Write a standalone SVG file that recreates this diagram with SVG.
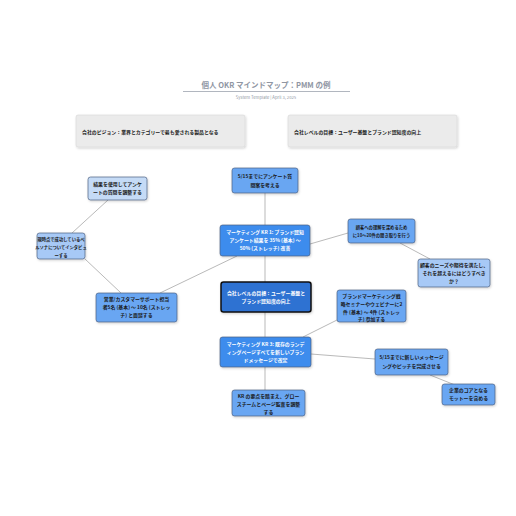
<svg xmlns="http://www.w3.org/2000/svg" width="516" height="516" viewBox="0 0 516 516">
<style>
text{font-family:"Noto Sans CJK JP","Noto Sans",sans-serif;text-anchor:middle;font-weight:bold}
.t{font-size:4.9px;fill:#1a1a1a}
.w{font-size:4.9px;fill:#ffffff}
.s{font-size:4.3px}
.node{stroke:#4a5f80;stroke-width:0.7}
.lt{fill:#c5dbf6}
.md{fill:#69a6f2}
.lb{fill:#a7c9f6}
.kr{fill:#3e8ced}
.vis{fill:#ebebeb;stroke:#d6d6d6;stroke-width:0.6}
.cn line{stroke:#8a8a8a;stroke-width:0.6}
</style>
<defs>
<filter id="sh" x="-10%" y="-10%" width="130%" height="140%"><feDropShadow dx="0.8" dy="1.2" stdDeviation="0.8" flood-color="#000" flood-opacity="0.18"/></filter>
</defs>
<rect width="516" height="516" fill="#ffffff"/>
<g id="title">
<text x="266" y="88" style="font-size:7.5px;fill:#8f96a3">個人 OKR マインドマップ：PMM の例</text>
<line x1="183" y1="91.5" x2="350" y2="91.5" stroke="#8f96a3" stroke-width="0.7"/>
<text x="266" y="98.5" style="font-size:4.2px;fill:#8f96a3;font-weight:normal">System Template | April 3, 2025</text>
</g>
<g id="vision">
<rect class="vis" x="76" y="115" width="169" height="32" rx="2" filter="url(#sh)"/>
<text x="82" y="134" class="t" style="text-anchor:start">会社のビジョン：業界とカテゴリーで最も愛される製品となる</text>
</g>
<g id="goal-banner">
<rect class="vis" x="288" y="115" width="169" height="32" rx="2" filter="url(#sh)"/>
<text x="294" y="134" class="t" style="text-anchor:start">会社レベルの目標：ユーザー基盤とブランド認知度の向上</text>
</g>
<g class="cn" id="connectors">
<line x1="265" y1="193" x2="265" y2="225"/>
<line x1="310" y1="244" x2="348" y2="233"/>
<line x1="400" y1="243" x2="430" y2="259"/>
<line x1="237" y1="256" x2="160" y2="293"/>
<line x1="85" y1="259" x2="121" y2="293"/>
<line x1="108" y1="200" x2="72" y2="233"/>
<line x1="265" y1="256" x2="265" y2="282"/>
<line x1="265" y1="312" x2="265" y2="337"/>
<line x1="303" y1="337" x2="337" y2="320"/>
<line x1="311" y1="354" x2="375" y2="359"/>
<line x1="430" y1="375" x2="455" y2="385"/>
<line x1="265" y1="367" x2="265" y2="390"/>
</g>
<g id="n-survey">
<rect class="node md" x="232" y="168" width="66" height="25" rx="2.5" filter="url(#sh)"/>
<text class="t" x="265" y="178">5/15までにアンケート質</text>
<text class="t" x="265" y="187">問案を考える</text>
</g>
<g id="n-results">
<rect class="node lt" x="88" y="177" width="59" height="23" rx="2.5" filter="url(#sh)"/>
<text class="t" x="117.5" y="186">結果を使用してアンケ</text>
<text class="t" x="117.5" y="194">ートの質問を調整する</text>
</g>
<g id="n-kr1">
<rect class="node kr" x="220" y="225" width="90" height="31" rx="2.5" filter="url(#sh)"/>
<text class="w" x="265" y="234">マーケティング KR 1: ブランド認知</text>
<text class="w" x="265" y="242">アンケート結果を 35% (基本) ～</text>
<text class="w" x="265" y="250">50% (ストレッチ) 改善</text>
</g>
<g id="n-interview">
<rect class="node md" x="348" y="219" width="67" height="24" rx="2.5" filter="url(#sh)"/>
<text class="t s" x="381.5" y="229">顧客への理解を深めるため</text>
<text class="t s" x="381.5" y="237">に10～20件の聞き取りを行う</text>
</g>
<g id="n-needs">
<rect class="node lb" x="418" y="259" width="72" height="28" rx="2.5" filter="url(#sh)"/>
<text class="t" x="454" y="267">顧客のニーズや期待を満たし、</text>
<text class="t" x="454" y="275">それを超えるにはどうすべき</text>
<text class="t" x="454" y="283">か？</text>
</g>
<g id="n-persona">
<rect class="node lb" x="37" y="233" width="48" height="26" rx="2.5" filter="url(#sh)"/>
<text class="t s" x="61" y="241">現時点で成功しているペ</text>
<text class="t s" x="61" y="249">ルソナについてインタビュ</text>
<text class="t s" x="61" y="257">ーする</text>
</g>
<g id="n-center">
<rect x="221" y="282" width="90" height="30" rx="2.5" fill="#2f72d2" stroke="#111111" stroke-width="1.5" filter="url(#sh)"/>
<text class="w" x="266" y="295">会社レベルの目標：ユーザー基盤と</text>
<text class="w" x="266" y="303">ブランド認知度の向上</text>
</g>
<g id="n-sales">
<rect class="node md" x="96" y="293" width="81" height="29" rx="2.5" filter="url(#sh)"/>
<text class="t" x="136.5" y="301">営業/カスタマーサポート担当</text>
<text class="t" x="136.5" y="309">者5名 (基本) ～ 10名 (ストレッ</text>
<text class="t" x="136.5" y="317">チ) と面談する</text>
</g>
<g id="n-kr3">
<rect class="node kr" x="220" y="337" width="91" height="30" rx="2.5" filter="url(#sh)"/>
<text class="w" x="265.5" y="346">マーケティング KR 3: 既存のランデ</text>
<text class="w" x="265.5" y="354">ィングページすべてを新しいブラン</text>
<text class="w" x="265.5" y="362">ドメッセージで改定</text>
</g>
<g id="n-seminar">
<rect class="node md" x="337" y="290" width="69" height="32" rx="2.5" filter="url(#sh)"/>
<text class="t" x="371.5" y="298">ブランドマーケティング戦</text>
<text class="t" x="371.5" y="306">略セミナーやウェビナーに2</text>
<text class="t" x="371.5" y="314">件 (基本) ～ 4件 (ストレッ</text>
<text class="t" x="371.5" y="321">チ) 参加する</text>
</g>
<g id="n-messaging">
<rect class="node md" x="375" y="349" width="73" height="26" rx="2.5" filter="url(#sh)"/>
<text class="t" x="411.5" y="359">5/15までに新しいメッセージ</text>
<text class="t" x="411.5" y="368">ングやピッチを完成させる</text>
</g>
<g id="n-motto">
<rect class="node md" x="442" y="384" width="53" height="21" rx="2.5" filter="url(#sh)"/>
<text class="t" x="468.5" y="392">企業のコアとなる</text>
<text class="t" x="468.5" y="400">モットーを含める</text>
</g>
<g id="n-audit">
<rect class="node md" x="232" y="390" width="73" height="26" rx="2.5" filter="url(#sh)"/>
<text class="t" x="268.5" y="398">KR の要点を踏まえ、グロー</text>
<text class="t" x="268.5" y="406">スチームとページ監査を調整</text>
<text class="t" x="268.5" y="414">する</text>
</g>
</svg>
